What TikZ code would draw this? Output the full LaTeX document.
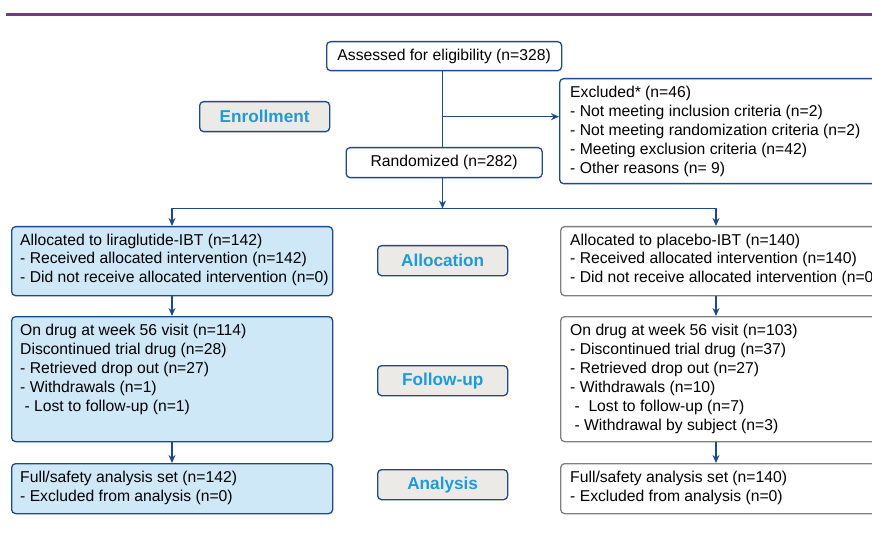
\documentclass[tikz,border=0pt]{standalone}
\usepackage{fontspec}
\setmainfont{Liberation Sans}
\usetikzlibrary{arrows.meta}
\definecolor{navy}{HTML}{1F4A86}
\definecolor{lightfill}{HTML}{CFE8F8}
\definecolor{labelfill}{HTML}{EBEAE6}
\definecolor{labeltext}{HTML}{1E9BD7}
\definecolor{greyline}{HTML}{808080}
\definecolor{topline}{HTML}{6E3F7C}
\tikzset{
  navybox/.style={draw=navy, line width=1.3pt, rounded corners=4pt, fill=white, inner sep=0pt, anchor=north west},
  bluebox/.style={navybox, fill=lightfill},
  greybox/.style={draw=greyline, line width=1.3pt, rounded corners=4pt, fill=white, inner sep=0pt, anchor=north west},
  stagelabel/.style={draw=navy, line width=1.3pt, rounded corners=4pt, fill=labelfill, inner sep=0pt,
    minimum width=130pt, minimum height=30pt, anchor=north west,
    font=\fontsize{17.2}{20}\selectfont\bfseries, text=labeltext},
  boxtext/.style={anchor=north west, inner sep=0pt, align=left,
    font=\fontsize{15.7}{18.9}\selectfont},
  ctext/.style={font=\fontsize{15.7}{18.9}\selectfont},
  conn/.style={draw=navy, line width=1.5pt},
  arr/.style={conn, -{Stealth[length=8pt,width=7pt]}},
}
\begin{document}
\begin{tikzpicture}[x=1pt,y=-1pt]
\useasboundingbox (0,0) rectangle (872,537);
\clip (0,0) rectangle (872,537);
\draw[topline, line width=3pt] (6,15) -- (880,15);

% top boxes
\node[navybox, minimum width=235pt, minimum height=29pt, ctext] (assess) at (326,41) {Assessed for eligibility (n=328)};
\node[navybox, minimum width=196pt, minimum height=30pt, ctext] (rand) at (345.5,147) {Randomized (n=282)};
\node[navybox, minimum width=330pt, minimum height=105pt] (excl) at (559,78) {};
\node[boxtext] (excltxt) at (570,86) {Excluded* (n=46)\\- Not meeting inclusion criteria (n=2)\\- Not meeting randomization criteria (n=2)\\- Meeting exclusion criteria (n=42)\\- Other reasons (n= 9)};

% stage labels
\node[stagelabel] (lenroll) at (199,101) {Enrollment};
\node[stagelabel] (lalloc) at (377,245) {Allocation};
\node[stagelabel] (lfollow) at (377,365) {Follow-up};
\node[stagelabel] (lanal) at (377,469) {Analysis};

% left column
\node[bluebox, minimum width=321pt, minimum height=69pt] (la) at (11,226) {};
\node[boxtext] (latxt) at (20,233.5) {Allocated to liraglutide-IBT (n=142)\\- Received allocated intervention (n=142)\\- Did not receive allocated intervention (n=0)};
\node[bluebox, minimum width=321pt, minimum height=125pt] (lf) at (11,316) {};
\node[boxtext] (lftxt) at (20,324) {On drug at week 56 visit (n=114)\\Discontinued trial drug (n=28)\\- Retrieved drop out (n=27)\\- Withdrawals (n=1)\\\ - Lost to follow-up (n=1)};
\node[bluebox, minimum width=321pt, minimum height=50pt] (ln) at (11,463) {};
\node[boxtext] (lntxt) at (20,471) {Full/safety analysis set (n=142)\\- Excluded from analysis (n=0)};

% right column
\node[greybox, minimum width=330pt, minimum height=69pt] (ra) at (560,226) {};
\node[boxtext] (ratxt) at (570,233.5) {Allocated to placebo-IBT (n=140)\\- Received allocated intervention (n=140)\\- Did not receive allocated intervention (n=0)};
\node[greybox, minimum width=330pt, minimum height=125pt] (rf) at (560,316) {};
\node[boxtext] (rftxt) at (570,324) {On drug at week 56 visit (n=103)\\- Discontinued trial drug (n=37)\\- Retrieved drop out (n=27)\\- Withdrawals (n=10)\\\ -\ \ Lost to follow-up (n=7)\\\ - Withdrawal by subject (n=3)};
\node[greybox, minimum width=330pt, minimum height=50pt] (rn) at (560,463) {};
\node[boxtext] (rntxt) at (570,471) {Full/safety analysis set (n=140)\\- Excluded from analysis (n=0)};

% connectors
\coordinate (split) at (442.5,116.7);
\coordinate (branch) at (442.5,208.5);
\coordinate (lcol) at (172,0);
\coordinate (rcol) at (716,0);
\draw[conn] (assess.south -| split) -- (rand.north -| split);
\draw[arr] (split) -- (split -| excl.west);
\draw[arr] (rand.south -| branch) -- (branch);
\draw[arr] (branch) -| (la.north -| lcol);
\draw[arr] (branch) -| (ra.north -| rcol);
\draw[arr] (la.south -| lcol) -- (lf.north -| lcol);
\draw[arr] (lf.south -| lcol) -- (ln.north -| lcol);
\draw[arr] (ra.south -| rcol) -- (rf.north -| rcol);
\draw[arr] (rf.south -| rcol) -- (rn.north -| rcol);
\end{tikzpicture}
\end{document}
